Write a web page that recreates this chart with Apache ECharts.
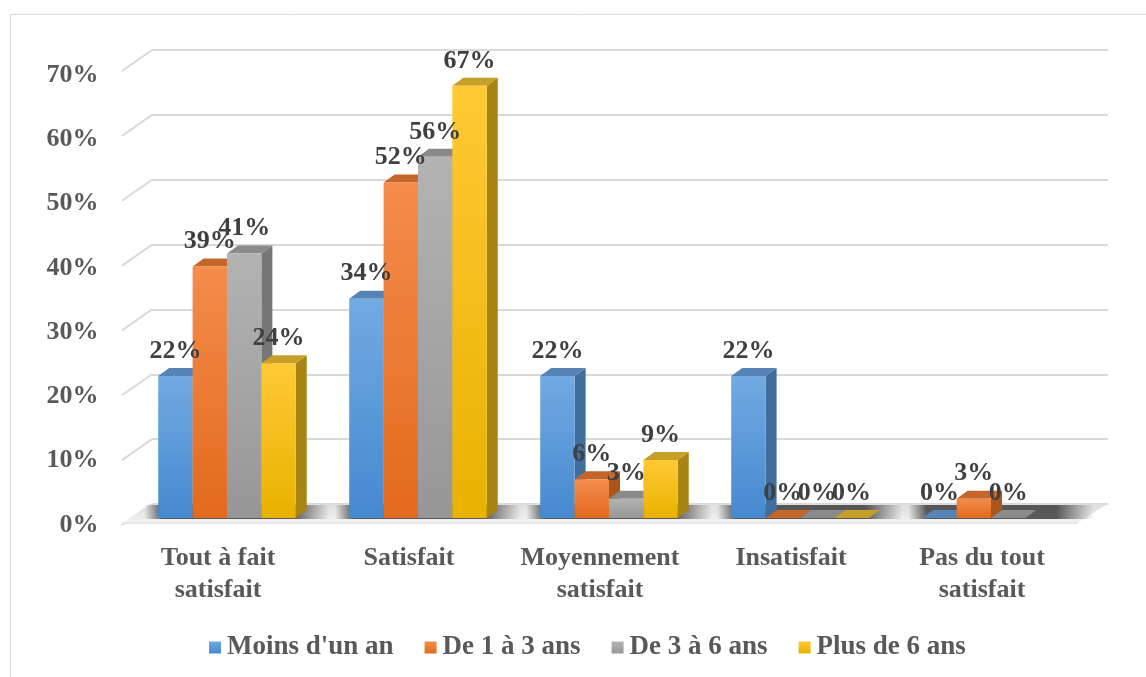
<!DOCTYPE html>
<html>
<head>
<meta charset="utf-8">
<script src="https://cdn.jsdelivr.net/npm/echarts@6/dist/echarts.min.js"></script>
<style>
  html, body { margin: 0; padding: 0; background: #fff; }
  #chart { width: 1146px; height: 677px; }
</style>
</head>
<body>
<div id="chart"></div>
<script>
// Satisfaction by seniority (percent of respondents)
const categories = ['Tout à fait\nsatisfait', 'Satisfait', 'Moyennement\nsatisfait', 'Insatisfait', 'Pas du tout\nsatisfait'];
const seriesNames = ["Moins d'un an", 'De 1 à 3 ans', 'De 3 à 6 ans', 'Plus de 6 ans'];
const moinsUnAn = [22, 34, 22, 22, 0];
const de1a3 = [39, 52, 6, 0, 3];
const de3a6 = [41, 56, 3, 0, 0];
const plusDe6 = [24, 67, 9, 0, null];
const yTicks = [0, 10, 20, 30, 40, 50, 60, 70];

const FONT = '"Liberation Serif", "Times New Roman", serif';

// face colours per series: front gradient (top, bottom), side, top
const palette = [
  { f1: '#72aae2', f2: '#4589cf', side: '#3f6d9e', top: '#5583b5' },
  { f1: '#f48c4c', f2: '#e26a1c', side: '#a9561f', top: '#c4652a' },
  { f1: '#b3b3b3', f2: '#979797', side: '#767676', top: '#8a8a8a' },
  { f1: '#ffc935', f2: '#e9b200', side: '#a88512', top: '#c7a02a' }
];
const valueSets = [moinsUnAn, de1a3, de3a6, plusDe6];

const DEPTH_X = 11, DEPTH_Y = -8;

function grad(c1, c2) {
  return new echarts.graphic.LinearGradient(0, 0, 0, 1, [
    { offset: 0, color: c1 }, { offset: 1, color: c2 }
  ]);
}

function barGeom(params, api, si) {
  const cat = api.value(0), v = api.value(1);
  const base = api.coord([cat, 0]);
  const top = api.coord([cat, v]);
  const band = api.size([1, 0])[0];
  const bw = band * 0.18;
  const x0 = base[0] + band * 0.047 - 2 * bw + si * bw;
  return { x0: x0, x1: x0 + bw, yb: base[1], yt: top[1], bw: bw, v: v };
}

function barRenderer(si) {
  const c = palette[si];
  return function (params, api) {
    if (isNaN(api.value(1))) return null;
    const g = barGeom(params, api, si);
    const children = [
      { type: 'polygon', shape: { points: [[g.x1, g.yt], [g.x1 + DEPTH_X, g.yt + DEPTH_Y], [g.x1 + DEPTH_X, g.yb + DEPTH_Y], [g.x1, g.yb]] },
        style: { fill: c.side } },
      { type: 'polygon', shape: { points: [[g.x0, g.yt], [g.x0 + DEPTH_X, g.yt + DEPTH_Y], [g.x1 + DEPTH_X, g.yt + DEPTH_Y], [g.x1, g.yt]] },
        style: { fill: c.top } }
    ];
    if (g.yb - g.yt > 0) {
      children.push({ type: 'rect', shape: { x: g.x0, y: g.yt, width: g.bw, height: g.yb - g.yt },
        style: { fill: grad(c.f1, c.f2) } });
    }
    children.push({ type: 'text', z2: 100, style: {
      text: g.v + '%', x: (g.x0 + g.x1) / 2, y: g.yt - 25, align: 'center', verticalAlign: 'middle',
      font: 'bold 26px ' + FONT, fill: '#3f3f3f' } });
    return { type: 'group', children: children };
  };
}

const barSeries = valueSets.map(function (vals, si) {
  return {
    name: seriesNames[si],
    type: 'custom',
    xAxisIndex: 1, yAxisIndex: 1,
    z: 3,
    itemStyle: { color: grad(palette[si].f1, palette[si].f2) },
    renderItem: barRenderer(si),
    encode: { x: 0, y: 1 },
    data: vals.map(function (v, i) { return [i, v === null ? '-' : v]; })
  };
});

// side-wall diagonals joining the front value labels to the back gridlines
const wallSeries = {
  type: 'custom', xAxisIndex: 0, yAxisIndex: 0, z: 1, silent: true,
  encode: { x: 0, y: 1 },
  data: yTicks.map(function (t) { return [0, t]; }),
  renderItem: function (params, api) {
    const cs = params.coordSys;
    const y = api.coord([0, api.value(1)])[1];
    return { type: 'line', shape: { x1: cs.x, y1: y, x2: cs.x - 30, y2: y + 21 },
      style: { stroke: '#d9d9d9', lineWidth: 2 } };
  }
};

// floor with the shadow cast behind each group of columns
const floorSeries = {
  type: 'custom', xAxisIndex: 1, yAxisIndex: 1, z: 2, silent: true,
  encode: { x: 0, y: 1 },
  data: [[0, 0]],
  renderItem: function (params, api) {
    const cs = params.coordSys;
    const y0 = api.coord([0, 0])[1];
    const band = api.size([1, 0])[0];
    const children = [
      { type: 'polygon', shape: { points: [[cs.x, y0 + 5], [cs.x + cs.width, y0 + 5], [cs.x + cs.width + 30, y0 - 14], [cs.x + 30, y0 - 14]] },
        style: { fill: grad('#dedede', '#f3f3f3') } },
      { type: 'line', shape: { x1: cs.x, y1: y0 + 5, x2: cs.x + cs.width, y2: y0 + 5 },
        style: { stroke: '#e6e6e6', lineWidth: 2 } }
    ];
    categories.forEach(function (c, i) {
      const cx = api.coord([i, 0])[0];
      const left = cx + band * 0.047 - 0.36 * band - 14;
      const right = cx + band * 0.047 + 0.36 * band + 34;
      children.push({ type: 'rect', shape: { x: left, y: y0 - 13, width: right - left, height: 14 },
        style: { fill: new echarts.graphic.LinearGradient(0, 0, 1, 0, [
          { offset: 0, color: 'rgba(40,40,40,0)' },
          { offset: 0.1, color: 'rgba(40,40,40,0.75)' },
          { offset: 0.8, color: 'rgba(40,40,40,0.75)' },
          { offset: 1, color: 'rgba(40,40,40,0)' }
        ]) } });
    });
    return { type: 'group', children: children };
  }
};

const hiddenCat = { type: 'category', data: categories, show: false };

const option = {
  backgroundColor: '#ffffff',
  animation: false,
  textStyle: { fontFamily: FONT },
  graphic: [
    { type: 'rect', left: 8, top: 12, shape: { width: 1160, height: 700 },
      style: { fill: 'none', stroke: '#d9d9d9', lineWidth: 1 }, silent: true }
  ],
  grid: [
    // back wall (gridlines)
    { left: 152, right: 38, top: 50, bottom: 173 },
    // front plane (columns, categories)
    { left: 122.5, right: 68.5, top: 66.5, bottom: 159 },
    // value labels along the front edge of the side wall
    { left: 122.5, right: 68.5, top: 75, bottom: 152 }
  ],
  xAxis: [
    Object.assign({ gridIndex: 0 }, hiddenCat),
    { gridIndex: 1, type: 'category', data: categories,
      axisLine: { show: false }, axisTick: { show: false },
      axisLabel: { interval: 0, margin: 24, fontSize: 26, fontWeight: 'bold', color: '#595959', lineHeight: 32, fontFamily: FONT } },
    Object.assign({ gridIndex: 2 }, hiddenCat)
  ],
  yAxis: [
    { gridIndex: 0, type: 'value', min: 0, max: 70, interval: 10,
      axisLabel: { show: false }, axisLine: { show: false }, axisTick: { show: false },
      splitLine: { show: true, lineStyle: { color: '#d9d9d9', width: 2 } } },
    { gridIndex: 1, type: 'value', min: 0, max: 70, interval: 10, show: false, splitLine: { show: false } },
    { gridIndex: 2, type: 'value', min: 0, max: 70, interval: 10,
      axisLine: { show: false }, axisTick: { show: false }, splitLine: { show: false },
      axisLabel: { margin: 24, fontSize: 26, fontWeight: 'bold', color: '#595959', fontFamily: FONT,
        formatter: function (v) { return yTicks.indexOf(v) >= 0 ? v + '%' : ''; } } }
  ],
  legend: {
    data: seriesNames,
    bottom: 11, left: 204,
    icon: 'rect', itemWidth: 12, itemHeight: 12, itemGap: 31,
    textStyle: { fontSize: 27, fontWeight: 'bold', color: '#595959', fontFamily: FONT, padding: [0, 0, 0, 1] }
  },
  series: [wallSeries, floorSeries].concat(barSeries)
};

const chart = echarts.init(document.getElementById('chart'), null, { renderer: 'canvas' });
chart.setOption(option);
</script>
</body>
</html>
